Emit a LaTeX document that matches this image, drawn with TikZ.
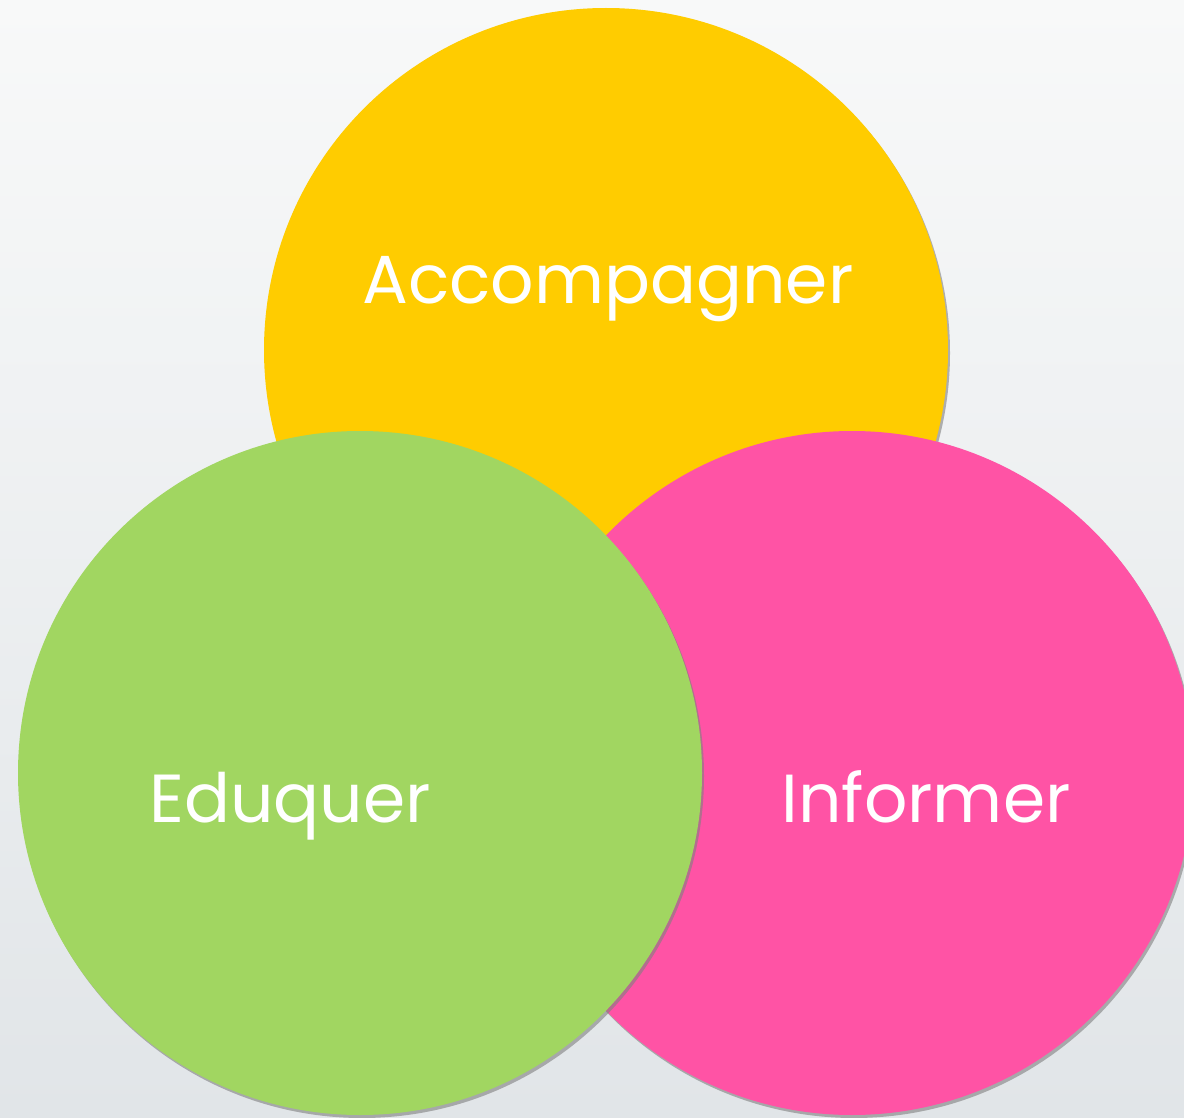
\documentclass[tikz,border=0pt]{standalone}
\usepackage{fontspec}
\setmainfont{Poppins}
\usetikzlibrary{shadows}
\definecolor{bgtop}{RGB}{248,249,249}
\definecolor{bgbot}{RGB}{225,229,232}
\definecolor{c1}{RGB}{255,204,0}
\definecolor{c2}{RGB}{161,214,97}
\definecolor{c3}{RGB}{255,83,165}

\begin{document}
\begin{tikzpicture}[
    x=1pt, y=-1pt,
    ring/.style={
        circle, inner sep=0, minimum size=684pt,
        drop shadow={shadow xshift=2pt, shadow yshift=-3pt, opacity=0.6}
    },
    l/.style={
        text=white, anchor=base,
        font=\fontsize{68}{68}\selectfont
    }
]
    \useasboundingbox (0,0) rectangle (1184,1118);
    \shade [top color=bgtop, bottom color=bgbot] (0,0) rectangle (1184,1118);

    \node (accomp) [ring, fill=c1] at (606,350) {};
    \node (inform) [ring, fill=c3] at (852,773) {};
    \node (eduq) [ring, fill=c2] at (360,773) {};

    \node (accomplabel) [l] at (608,303) {Accompagner};
    \node (eduqlabel) [l] at (290,822) {Eduquer};
    \node (informlabel) [l] at (926,822) {Informer};
\end{tikzpicture}
\end{document}
